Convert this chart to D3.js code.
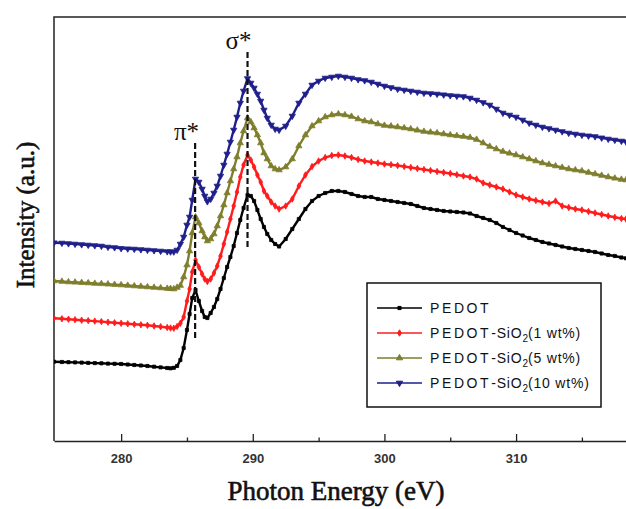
<!DOCTYPE html>
<html lang="en">
<head>
  <meta charset="UTF-8" />
  <title>NEXAFS C K-edge - PEDOT / PEDOT-SiO2</title>
  <script src="https://d3js.org/d3.v7.min.js"></script>
  <style>
    body { margin: 0; background: #fff; }
    svg { display: block; background: #fff; }
    .tick text { font-family: Arial, "Liberation Sans", sans-serif; font-size: 13px; font-weight: bold; fill: #333; }
    .axis-title { font-family: "Times New Roman", "Liberation Serif", serif; fill: #111; stroke: #111; stroke-width: 0.6px; }
    .legend text { font-family: Arial, "Liberation Sans", sans-serif; font-size: 14px; fill: #111; }
    .peak-label { font-family: "Liberation Serif", "DejaVu Serif", serif; font-size: 25px; fill: #111; }
  </style>
</head>
<body>

<svg width="626" height="509"></svg>

<script>
  // photon energy (eV), shared by all curves
  const energy = [274.9, 275.5, 276, 276.5, 277, 277.5, 278, 278.5, 279, 279.5, 280, 280.5, 281, 281.5, 282, 282.5, 283, 283.5,
    283.75, 284, 284.25, 284.5, 284.75, 285, 285.2, 285.4, 285.65, 285.9, 286.15, 286.35, 286.55, 286.8, 287.05, 287.3, 287.55, 287.8,
    288.05, 288.3, 288.55, 288.8, 289.05, 289.3, 289.6, 289.85, 290.1, 290.35, 290.6, 290.85, 291.1, 291.4, 291.7, 292,
    292.5, 293, 293.5, 294, 294.5, 295, 295.5, 296, 296.5, 297, 297.5, 298, 298.5, 299, 299.5, 300,
    300.5, 301, 301.5, 302, 302.5, 303, 303.5, 304, 304.5, 305, 305.5, 306, 306.5, 307, 307.5, 308, 308.5, 309, 309.5, 310,
    310.5, 311, 311.5, 312, 312.5, 313, 313.5, 314, 314.5, 315, 315.5, 316, 316.5, 317, 317.5, 318, 318.35];

  // intensity (a.u., curves stacked as in the figure)
  const pedot = [79.3, 79.0, 78.8, 78.6, 78.4, 78.1, 77.9, 77.7, 77.4, 77.2, 77.0, 76.5, 76.0, 75.5, 75.0, 74.3, 73.6, 73.0,
    72.7, 73.2, 75.0, 81, 93, 111, 127, 143, 151, 140, 130, 124, 123, 128, 134, 142, 152, 163,
    174, 184, 195, 208, 221, 233, 246, 245, 240, 231, 222, 214, 207, 201, 197, 194.5,
    202, 212, 222, 232, 240, 245, 248, 250, 250, 249, 247, 245, 244, 244, 242, 241,
    240, 239, 238, 237, 235, 233, 232, 231, 230, 229.5, 229, 228.5, 227.5, 225, 223, 221, 218, 214, 211, 208,
    205.5, 203, 201, 199, 197.5, 196, 194.5, 193, 192, 191, 190, 189, 187.5, 186, 185, 183.5, 182.7];

  const sio2_1 = [122.7, 122.2, 121.8, 121.3, 120.8, 120.4, 119.9, 119.4, 118.8, 118.2, 117.7, 117.2, 116.7, 116.2, 115.7, 115.0, 114.3, 113.5,
    113, 112.8, 114.5, 117.7, 124, 140, 152, 169, 181, 174, 167, 162, 159.5, 162, 168, 175, 185, 197,
    209, 222, 235, 249, 264, 276, 286, 281, 274, 266, 259, 250, 245, 239, 235, 232,
    235, 242, 255, 266, 274.5, 280, 283.5, 285.5, 286, 285, 283.5, 281.5, 280, 279, 278, 277,
    276.3, 275.5, 274.5, 273.5, 272.5, 271.5, 270.5, 269.5, 268.5, 267.5, 266.3, 265, 264, 262, 258, 256, 254, 252, 249, 246,
    244, 242, 240.5, 239, 237.5, 240, 235, 233.5, 232, 231, 229.5, 228, 226.5, 225, 223.7, 222.5, 222];

  const sio2_5 = [160, 159.5, 159, 158.7, 158.3, 158, 157.5, 157.2, 156.8, 156.4, 156, 155.5, 155, 154.5, 154, 153.5, 153, 152.5,
    152.3, 152, 153.5, 155.5, 164, 176, 190, 208, 224, 218, 210, 204, 200, 202, 207, 215, 225, 236,
    248, 260, 272, 284, 298, 310, 323, 319, 313, 306, 298, 288, 282, 275, 272, 271,
    274, 282, 295, 306, 315, 320, 324, 326, 327, 326, 324.5, 322, 320, 319, 317, 315.5,
    314.8, 314, 313, 312, 310.7, 309.5, 308.7, 308, 307, 306, 305.2, 304.5, 303.5, 301.5, 298, 294.5, 292, 289.5, 287.7, 286,
    284, 282, 280, 278, 276.5, 275, 273.5, 272, 271, 270, 268.5, 267, 265.5, 264, 262.7, 261.5, 261];

  const sio2_10 = [198.3, 198, 197.5, 197, 196.5, 196, 195.5, 195, 194, 193.5, 192.7, 192.3, 192, 191.5, 191, 190.5, 190, 189.5,
    189.3, 189.3, 191, 197, 204, 216, 224, 241, 262, 259, 252, 245, 239.5, 242, 248, 255, 265, 276,
    287, 299, 311, 324, 338, 350, 362.5, 358, 353, 347, 340, 331, 323, 316, 312, 311,
    315, 325, 338, 347, 356, 360, 363, 364, 365, 364, 363, 361.5, 360.5, 359, 357, 355,
    353.5, 352, 351, 350, 349, 348, 347.5, 347, 346.3, 345.5, 345, 344.5, 343, 341, 338.5, 336, 332, 328, 326, 324,
    321, 318, 316, 314, 312.5, 311, 309.5, 308, 307, 306, 305.2, 304.5, 303.2, 302, 301, 300, 299.3];

  const seriesNames = ["PEDOT", "PEDOT-SiO2(1 wt%)", "PEDOT-SiO2(5 wt%)", "PEDOT-SiO2(10 wt%)"];
  const seriesValues = [pedot, sio2_1, sio2_5, sio2_10];
  const seriesColors = ["#000000", "#ff1c1c", "#7e7e2c", "#1f1f8c"];

  const xTicks = [280, 290, 300, 310];
  const xMinorTicks = [285, 295, 305, 315];

  // peak markers: energy, bottom and top of the dashed line
  const peaks = [
    { label: "π*", energy: 285.62, from: 103, to: 298 },
    { label: "σ*", energy: 289.6, from: 194, to: 389 }
  ];

  const svg = d3.select("svg"),
        margin = {top: 17, right: 0, bottom: 68, left: 54},
        width = +svg.attr("width") - margin.left - margin.right,
        height = +svg.attr("height") - margin.top - margin.bottom;

  const g = svg.append("g").attr("transform", `translate(${margin.left},${margin.top})`);

  const x = d3.scaleLinear().domain([274.9, 318.35]).range([0, width]);
  const y = d3.scaleLinear().domain([0, 424]).range([height, 0]);

  // frame (the right side is cut off in the figure)
  g.append("path")
   .attr("d", `M0,${height}V0H${width + 5}`)
   .attr("fill", "none")
   .attr("stroke", "#222")
   .attr("stroke-width", 1.5);

  // bottom axis, ticks pointing inward
  const xAxis = g.append("g")
   .attr("transform", `translate(0,${height})`)
   .call(d3.axisBottom(x).tickValues(xTicks).tickSizeInner(-7).tickSizeOuter(0).tickPadding(13).tickFormat(d3.format("d")));
  xAxis.select(".domain").attr("stroke", "#222").attr("stroke-width", 1.5);
  xAxis.selectAll(".tick line").attr("stroke", "#222").attr("stroke-width", 1.3);

  const xMinor = g.append("g")
   .attr("transform", `translate(0,${height})`)
   .call(d3.axisBottom(x).tickValues(xMinorTicks).tickSizeInner(-3.5).tickSizeOuter(0).tickFormat(""));
  xMinor.select(".domain").remove();
  xMinor.selectAll(".tick line").attr("stroke", "#222").attr("stroke-width", 1.3);

  // symbols
  const symbols = [
    d3.symbol().type(d3.symbolSquare).size(10),
    d3.symbol().type(d3.symbolDiamond).size(12),
    d3.symbol().type(d3.symbolTriangle).size(17),
    d3.symbol().type(d3.symbolTriangle).size(17)
  ];
  const symRotate = [0, 0, 0, 180];

  const line = d3.line()
                 .x(d => x(d[0]))
                 .y(d => y(d[1]));

  svg.append("clipPath").attr("id", "plot-clip")
     .append("rect").attr("x", 0).attr("y", 0).attr("width", width).attr("height", height);

  const plot = g.append("g").attr("clip-path", "url(#plot-clip)");

  seriesValues.forEach((vals, i) => {
    const pts = energy.map((e, k) => [e, vals[k]]);
    const s = plot.append("g");
    s.append("path")
     .datum(pts)
     .attr("fill", "none")
     .attr("stroke", seriesColors[i])
     .attr("stroke-width", 2.4)
     .attr("d", line);
    s.selectAll("path.mk")
     .data(pts)
     .enter()
     .append("path")
     .attr("class", "mk")
     .attr("d", symbols[i])
     .attr("transform", d => `translate(${x(d[0])},${y(d[1])}) rotate(${symRotate[i]})`)
     .attr("fill", seriesColors[i])
     .attr("stroke", seriesColors[i])
     .attr("stroke-width", 0.8);
  });

  // dashed peak lines
  peaks.forEach(p => {
    g.append("line")
     .attr("x1", x(p.energy)).attr("x2", x(p.energy))
     .attr("y1", y(p.from)).attr("y2", y(p.to))
     .attr("stroke", "#111")
     .attr("stroke-width", 2.2)
     .attr("stroke-dasharray", "6,3");
    g.append("text")
     .attr("class", "peak-label")
     .attr("x", x(p.energy) + 4)
     .attr("y", y(p.to) - 3)
     .attr("text-anchor", "end")
     .text(p.label);
  });

  // axis titles
  svg.append("text")
     .attr("class", "axis-title")
     .attr("x", 336)
     .attr("y", 500)
     .attr("font-size", "27px")
     .attr("text-anchor", "middle")
     .text("Photon Energy (eV)");

  svg.append("text")
     .attr("class", "axis-title")
     .attr("transform", "rotate(-90)")
     .attr("x", -215)
     .attr("y", 34)
     .attr("font-size", "25px")
     .attr("text-anchor", "middle")
     .text("Intensity (a.u.)");

  // legend
  const legend = svg.append("g")
                    .attr("class", "legend")
                    .attr("transform", "translate(367,283)");

  legend.append("rect")
        .attr("width", 234)
        .attr("height", 124)
        .attr("fill", "#fff")
        .attr("stroke", "#111")
        .attr("stroke-width", 1.5);

  seriesNames.forEach((name, i) => {
    const row = legend.append("g").attr("transform", `translate(0,${25 + i * 25})`);
    row.append("line")
       .attr("x1", 10).attr("x2", 55)
       .attr("stroke", seriesColors[i])
       .attr("stroke-width", 1.6);
    row.append("path")
       .attr("d", symbols[i])
       .attr("transform", `translate(32.5,0) rotate(${symRotate[i]})`)
       .attr("fill", seriesColors[i])
       .attr("stroke", seriesColors[i]);

    const t = row.append("text").attr("x", 63).attr("y", 5);
    const m = name.match(/^PEDOT(-SiO)?(2)?(.*)$/);
    t.append("tspan").attr("letter-spacing", "2.6px").text("PEDOT");
    if (m[1]) {
      t.append("tspan").attr("letter-spacing", "0.8px").text(m[1]);
      t.append("tspan").attr("font-size", "10px").attr("dy", 4).text(m[2]);
      t.append("tspan").attr("dy", -4).attr("letter-spacing", "0.8px").text(m[3]);
    }
  });
</script>

</body>
</html>
